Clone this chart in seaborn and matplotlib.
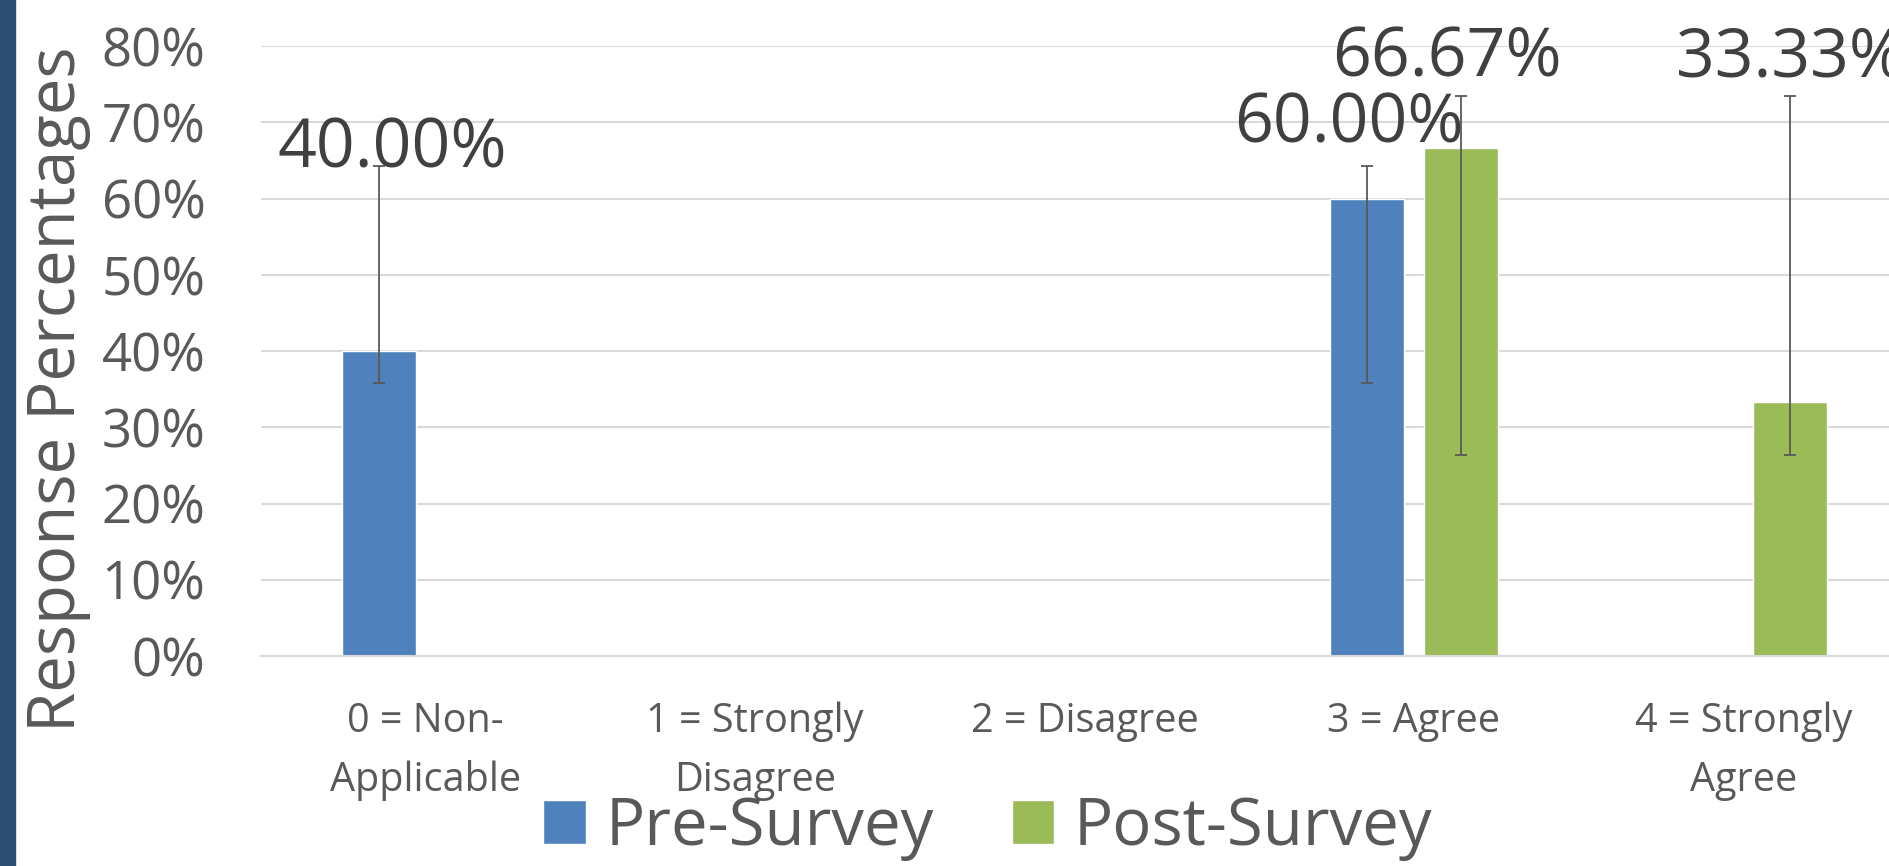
import pandas as pd
import matplotlib
matplotlib.use('Agg')
import matplotlib.pyplot as plt
from matplotlib.patches import Rectangle
import seaborn as sns

# chart data
categories = ['0 = Non-\nApplicable', '1 = Strongly\nDisagree', '2 = Disagree',
              '3 = Agree', '4 = Strongly\nAgree']
series = ['Pre-Survey', 'Post-Survey']
pre_values = [40.00, 0, 0, 60.00, 0]
post_values = [0, 0, 0, 66.67, 33.33]
pre_err_low = [35.8, None, None, 35.8, None]
pre_err_high = [64.2, None, None, 64.2, None]
post_err_low = [None, None, None, 26.4, 26.4]
post_err_high = [None, None, None, 73.5, 73.5]
y_ticks = [0, 10, 20, 30, 40, 50, 60, 70, 80]
y_label = 'Response Percentages'

# long table for seaborn
df = pd.DataFrame({
    'category': categories * 2,
    'series': [series[0]] * 5 + [series[1]] * 5,
    'value': pre_values + post_values,
})

sns.set_theme(style='white')
plt.rcParams['font.family'] = ['Open Sans', 'DejaVu Sans']

colors = {'Pre-Survey': '#4F81BD', 'Post-Survey': '#9BBB59'}
text_grey = '#595959'
label_grey = '#404040'

fig = plt.figure(figsize=(18.89, 8.66), dpi=100)
ax = fig.add_axes([261 / 1889, 1 - 656 / 866, (1908 - 261) / 1889, (656 - 46) / 866])

sns.barplot(data=df, x='category', y='value', hue='series', order=categories,
            hue_order=series, palette=colors, width=0.57, gap=0.21,
            errorbar=None, saturation=1, ax=ax)

handles, labels = ax.get_legend_handles_labels()
ax.get_legend().remove()
bar_groups = list(ax.containers[:2])

ax.set_xlim(-0.5, 4.5)
ax.set_ylim(0, 80)
ax.set_yticks(y_ticks)
ax.set_yticklabels([f'{t}%' for t in y_ticks])
ax.yaxis.grid(True, color='#D9D9D9', linewidth=1.5)
ax.set_axisbelow(True)
for s in ['top', 'right', 'left']:
    ax.spines[s].set_visible(False)
ax.spines['bottom'].set_color('#D9D9D9')
ax.spines['bottom'].set_linewidth(1.5)
ax.set_xlabel('')
ax.set_ylabel('')
ax.tick_params(axis='y', length=0, pad=40, labelsize=38, labelcolor=text_grey)
ax.tick_params(axis='x', length=0, pad=33, labelsize=28.5, labelcolor=text_grey)
for t in ax.get_xticklabels():
    t.set_multialignment('center')
    t.set_linespacing(1.58)

# error bars + value labels
err_low = [pre_err_low, post_err_low]
err_high = [pre_err_high, post_err_high]
vals = [pre_values, post_values]
# label offsets in points (dx, dy) from the top of each error bar
label_offsets = {(0, 0): (10, -1), (0, 3): (-13, 17), (1, 3): (-10, 14), (1, 4): (0, 14)}
for si, cont in enumerate(bar_groups):
    for ci, bar in enumerate(cont.patches):
        lo, hi = err_low[si][ci], err_high[si][ci]
        if lo is None:
            continue
        v = vals[si][ci]
        xc = bar.get_x() + bar.get_width() / 2
        ax.errorbar(xc, v, yerr=[[v - lo], [hi - v]], fmt='none', ecolor=text_grey,
                    elinewidth=1.3, capsize=4.3, capthick=1.3, zorder=5)
        dx, dy = label_offsets[(si, ci)]
        ax.annotate(f'{v:.2f}%', xy=(xc, hi), xytext=(dx, dy), textcoords='offset points',
                    ha='center', va='baseline', fontsize=49, color=label_grey,
                    annotation_clip=False, zorder=6)

fig.text(58 / 1889, 1 - 389 / 866, y_label, rotation=90, ha='center', va='center',
         fontsize=47, color=text_grey)

fig.legend(handles, labels, loc='center', bbox_to_anchor=(988 / 1889, 1 - 828 / 866),
           ncol=2, frameon=False, fontsize=47, labelcolor=text_grey,
           handlelength=0.65, handleheight=0.65, handletextpad=0.3, columnspacing=1.2,
           borderpad=0, borderaxespad=0)

# dark band on the left edge
fig.patches.append(Rectangle((0, 0), 15 / 1889, 1, transform=fig.transFigure,
                             color='#2A4D70', zorder=10))

fig.savefig('out.png', dpi=100)
